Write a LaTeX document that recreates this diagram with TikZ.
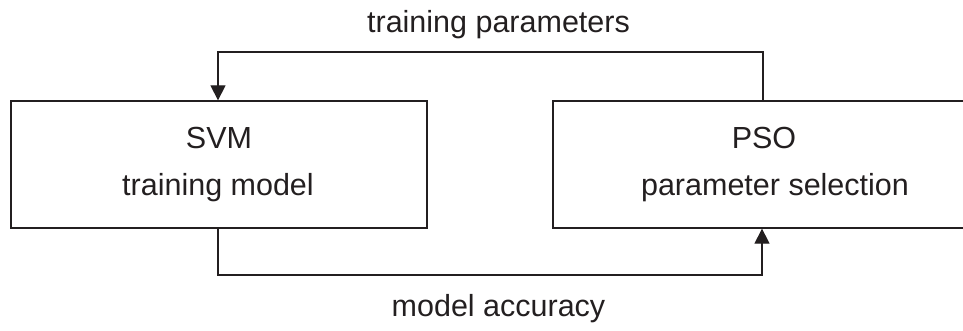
\documentclass[tikz,border=0pt]{standalone}
\usepackage{fontspec}
\setmainfont{Liberation Sans}
\usetikzlibrary{arrows.meta}
\definecolor{ink}{HTML}{231F20}
\begin{document}
\begin{tikzpicture}[x=1pt,y=1pt,
  box/.style={draw=ink,line width=1.3pt,minimum height=127pt,inner sep=0pt,anchor=center},
  txt/.style={text=ink,font=\fontsize{30.5}{36}\selectfont,inner sep=0pt,anchor=base},
  conn/.style={draw=ink,line width=1.3pt},
  arr/.style={conn,-{Triangle[length=15pt,width=15pt]}}]
\useasboundingbox (0,0) rectangle (963,330);
\node[box,minimum width=416pt] (svm) at (219,165.5) {};
\node[box,minimum width=444pt] (pso) at (775,165.5) {};
\node[txt] (svmt) at (219,182) {SVM};
\node[txt] (svmb) at (218,135) {training model};
\node[txt] (psot) at (764,182) {PSO};
\node[txt] (psob) at (775,135) {parameter selection};
\coordinate (tr) at (763,278);
\coordinate (tl) at (218,278);
\coordinate (bl) at (218,55);
\coordinate (br) at (762,55);
\draw[arr] (pso.north -| tr) -- (tr) -- (tl) -- (svm.north -| tl);
\draw[arr] (svm.south -| bl) -- (bl) -- (br) -- (pso.south -| br);
\node[txt] (tp) at (498.5,297) {training parameters};
\node[txt] (ma) at (498.5,14) {model accuracy};
\end{tikzpicture}
\end{document}
